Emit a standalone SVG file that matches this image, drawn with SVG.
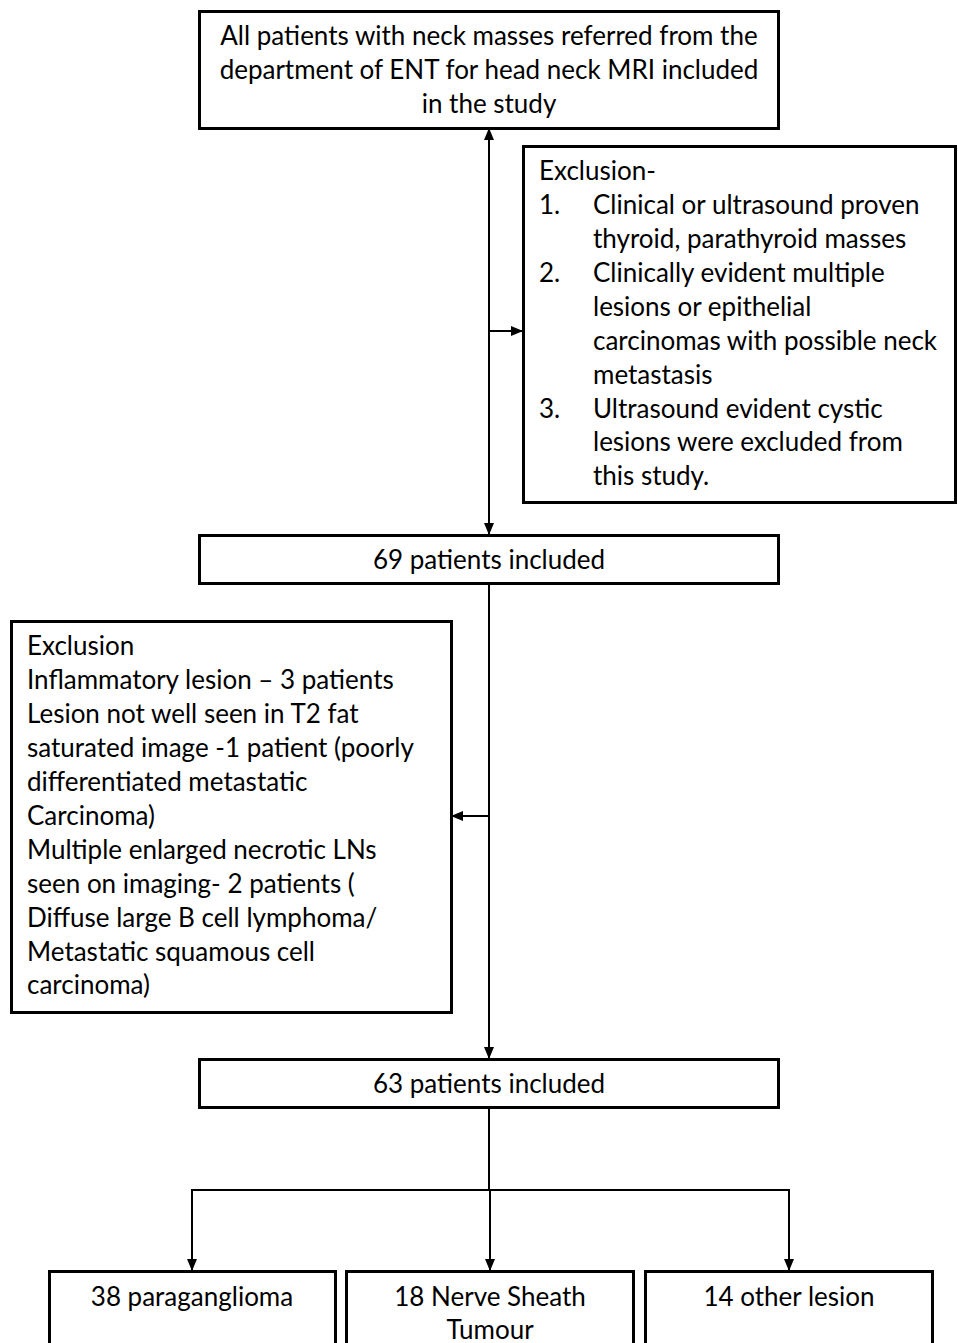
<svg xmlns="http://www.w3.org/2000/svg" width="958" height="1343" viewBox="0 0 958 1343">
<style>
.box{fill:#fff;stroke:#000;stroke-width:3}
.t{font-family:Lato,"Liberation Sans",sans-serif;font-size:26px;fill:#000}
.c{text-anchor:middle}
.ln{fill:none;stroke:#000;stroke-width:2}
</style>
<defs>
<marker id="ah" markerWidth="12" markerHeight="10" refX="11" refY="5" orient="auto" markerUnits="userSpaceOnUse">
<path d="M0,0 L12,5 L0,10 Z" fill="#000"/>
</marker>
</defs>
<rect width="958" height="1343" fill="#fff"/>
<g id="connectors">
<path class="ln" d="M489,520 L489,129" marker-end="url(#ah)"/>
<path class="ln" d="M489,331 L522,331" marker-end="url(#ah)"/>
<path class="ln" d="M489,140 L489,534" marker-end="url(#ah)"/>
<path class="ln" d="M489,584 L489,1058" marker-end="url(#ah)"/>
<path class="ln" d="M489,816 L452,816" marker-end="url(#ah)"/>
<path class="ln" d="M489,1108 L489,1190"/>
<path class="ln" d="M192,1271 L192,1190 L789,1190 L789,1270" marker-end="url(#ah)"/>
<path class="ln" d="M192,1200 L192,1270" marker-end="url(#ah)"/>
<path class="ln" d="M490,1190 L490,1270" marker-end="url(#ah)"/>
</g>
<g id="n_all">
<rect class="box" x="199.5" y="11.5" width="579" height="117"/>
<text class="t c" x="489" y="45">All patients with neck masses referred from the</text>
<text class="t c" x="489" y="79">department of ENT for head neck MRI included</text>
<text class="t c" x="489" y="113">in the study</text>
</g>
<g id="n_excl1">
<rect class="box" x="523.5" y="146.5" width="432" height="356"/>
<text class="t" x="539" y="180">Exclusion-</text>
<text class="t" x="539" y="214">1.</text>
<text class="t" x="593" y="214">Clinical or ultrasound proven</text>
<text class="t" x="593" y="248">thyroid, parathyroid masses</text>
<text class="t" x="539" y="282">2.</text>
<text class="t" x="593" y="282">Clinically evident multiple</text>
<text class="t" x="593" y="316">lesions or epithelial</text>
<text class="t" x="593" y="350">carcinomas with possible neck</text>
<text class="t" x="593" y="384">metastasis</text>
<text class="t" x="539" y="418">3.</text>
<text class="t" x="593" y="418">Ultrasound evident cystic</text>
<text class="t" x="593" y="451">lesions were excluded from</text>
<text class="t" x="593" y="485">this study.</text>
</g>
<g id="n_69">
<rect class="box" x="199.5" y="535.5" width="579" height="48"/>
<text class="t c" x="489" y="569">69 patients included</text>
</g>
<g id="n_excl2">
<rect class="box" x="11.5" y="621.5" width="440" height="391"/>
<text class="t" x="27" y="655">Exclusion</text>
<text class="t" x="27" y="689">Inflammatory lesion – 3 patients</text>
<text class="t" x="27" y="723">Lesion not well seen in T2 fat</text>
<text class="t" x="27" y="757">saturated image -1 patient (poorly</text>
<text class="t" x="27" y="791">differentiated metastatic</text>
<text class="t" x="27" y="825">Carcinoma)</text>
<text class="t" x="27" y="859">Multiple enlarged necrotic LNs</text>
<text class="t" x="27" y="893">seen on imaging- 2 patients (</text>
<text class="t" x="27" y="927">Diffuse large B cell lymphoma/</text>
<text class="t" x="27" y="961">Metastatic squamous cell</text>
<text class="t" x="27" y="994">carcinoma)</text>
</g>
<g id="n_63">
<rect class="box" x="199.5" y="1059.5" width="579" height="48"/>
<text class="t c" x="489" y="1093">63 patients included</text>
</g>
<g id="n_para">
<rect class="box" x="49.5" y="1271.5" width="286" height="90"/>
<text class="t c" x="192" y="1306">38 paraganglioma</text>
</g>
<g id="n_nerve">
<rect class="box" x="346.5" y="1271.5" width="287" height="90"/>
<text class="t c" x="490" y="1306">18 Nerve Sheath</text>
<text class="t c" x="490" y="1339">Tumour</text>
</g>
<g id="n_other">
<rect class="box" x="645.5" y="1271.5" width="287" height="90"/>
<text class="t c" x="789" y="1306">14 other lesion</text>
</g>
</svg>
